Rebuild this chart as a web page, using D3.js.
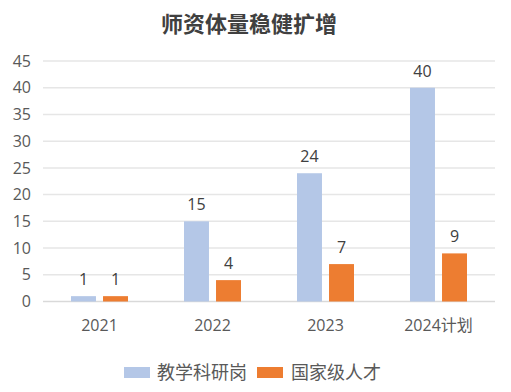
<!DOCTYPE html>
<html><head><meta charset="utf-8">
<script src="https://cdn.jsdelivr.net/npm/d3@7"></script>
<style>body{margin:0;background:#fff}svg{display:block}</style>
</head><body>
<svg id="c" width="511" height="392"></svg>
<script>
const title = "师资体量稳健扩增";
const categories = ["2021", "2022", "2023", "2024计划"];
const seriesNames = ["教学科研岗", "国家级人才"];
const teaching = [1, 15, 24, 40];
const talent = [1, 4, 7, 9];
const yTicks = [0, 5, 10, 15, 20, 25, 30, 35, 40, 45];
const colors = ["#B4C7E7", "#ED7D31"];

const font = "'Segoe UI','Open Sans','Noto Sans CJK SC',sans-serif";
const svg = d3.select("#c");
const m = {l: 43, r: 16, t: 61, b: 90};
const W = 511, H = 392;
const x = d3.scaleBand().domain(categories).range([m.l, W - m.r]);
const y = d3.scaleLinear().domain([0, 45]).range([301.5, 61]);
const inner = d3.scaleBand().domain(seriesNames).range([0, 57]).paddingInner(0.22);

svg.append("text").attr("x", 249).attr("y", 32).attr("text-anchor", "middle")
  .attr("font-family", "'Noto Sans CJK SC',sans-serif").attr("font-weight", "bold")
  .attr("font-size", 22).attr("fill", "#404040").text(title);

// grid
svg.append("g").selectAll("line").data(yTicks).join("line")
  .attr("x1", m.l).attr("x2", W - m.r)
  .attr("y1", d => y(d)).attr("y2", d => y(d))
  .attr("stroke", d => d === 0 ? "#D9D9D9" : "#E6E6E6").attr("stroke-width", 1.5);

// y axis labels
const yAxis = d3.axisLeft(y).tickValues(yTicks).tickSize(0).tickPadding(12);
const ga = svg.append("g").attr("transform", `translate(${m.l},0)`).call(yAxis);
ga.select(".domain").remove();
ga.selectAll("text").attr("font-family", font).attr("font-size", 16).attr("fill", "#595959");

// x axis labels
const xAxis = d3.axisBottom(x).tickSize(0).tickPadding(18);
const gx = svg.append("g").attr("transform", `translate(0,${y(0)})`).call(xAxis);
gx.select(".domain").remove();
gx.selectAll("text").attr("font-family", font).attr("font-size", 16).attr("fill", "#595959");

const series = [teaching, talent];
series.forEach((vals, si) => {
  const g = svg.append("g");
  const off = d => x(d) + x.bandwidth() / 2 - 28.5 + inner(seriesNames[si]);
  g.selectAll("rect").data(categories).join("rect")
    .attr("x", off)
    .attr("y", (d, i) => y(vals[i]))
    .attr("width", inner.bandwidth())
    .attr("height", (d, i) => y(0) - y(vals[i]))
    .attr("fill", colors[si]);
  g.selectAll("text").data(categories).join("text")
    .attr("x", d => off(d) + inner.bandwidth() / 2)
    .attr("y", (d, i) => y(vals[i]) - 11)
    .attr("text-anchor", "middle")
    .attr("font-family", font).attr("font-size", 16).attr("fill", "#404040")
    .text((d, i) => vals[i]);
});

// legend
const leg = [{x: 124, tx: 157}, {x: 257, tx: 291}];
seriesNames.forEach((n, i) => {
  svg.append("rect").attr("x", leg[i].x).attr("y", 367).attr("width", 26).attr("height", 11).attr("fill", colors[i]);
  svg.append("text").attr("x", leg[i].tx).attr("y", 379)
    .attr("font-family", "'Noto Sans CJK SC',sans-serif").attr("font-size", 18).attr("fill", "#595959").text(n);
});
</script>
</body></html>
